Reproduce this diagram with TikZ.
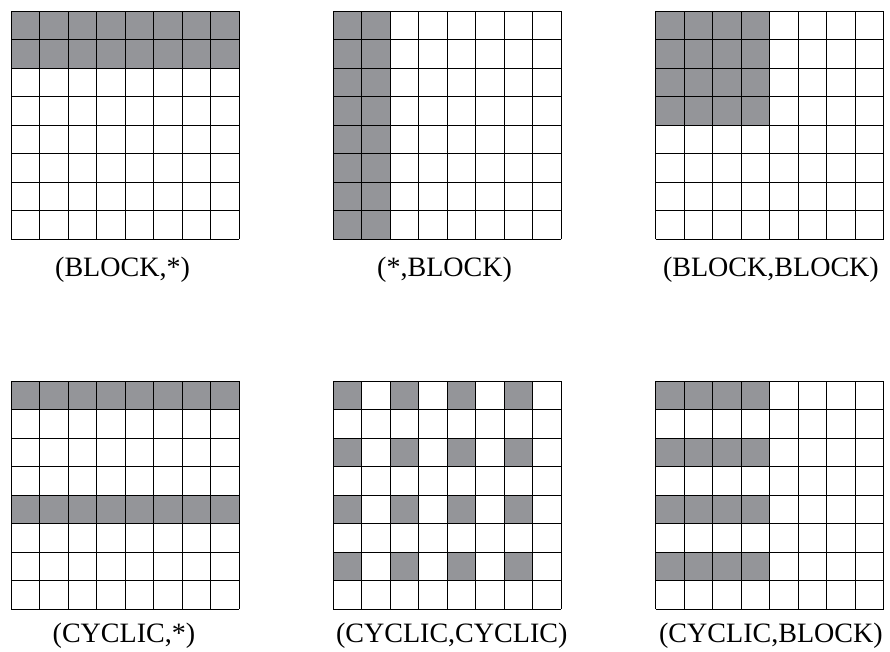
\documentclass[tikz,border=0pt]{standalone}
\usepackage{fontspec}
\setmainfont{Liberation Serif}
\usetikzlibrary{positioning}
\definecolor{cellgray}{RGB}{148,149,153}
\tikzset{
  owned/.style={fill=cellgray},
  gridline/.style={line width=0.9pt, black},
  distlabel/.style={font=\fontsize{28}{30}\selectfont, anchor=base, inner sep=0pt}
}

\begin{document}
\begin{tikzpicture}[x=1cm, y=1cm]
\useasboundingbox (0,0) rectangle (31.228,22.877);

% Top row: (BLOCK,*)
\begin{scope}[shift={(0.39,14.49)}]
\fill[owned] (0,6) rectangle (8,8);
\draw[gridline] (0,0) grid (8,8);
\end{scope}

% Top row: (*,BLOCK)
\begin{scope}[shift={(11.69,14.49)}]
\fill[owned] (0,0) rectangle (2,8);
\draw[gridline] (0,0) grid (8,8);
\end{scope}

% Top row: (BLOCK,BLOCK)
\begin{scope}[shift={(23.0,14.49)}]
\fill[owned] (0,4) rectangle (4,8);
\draw[gridline] (0,0) grid (8,8);
\end{scope}

% Bottom row: (CYCLIC,*)
\begin{scope}[shift={(0.39,1.51)}]
\fill[owned] (0,7) rectangle (8,8);
\fill[owned] (0,3) rectangle (8,4);
\draw[gridline] (0,0) grid (8,8);
\end{scope}

% Bottom row: (CYCLIC,CYCLIC)
\begin{scope}[shift={(11.69,1.51)}]
\foreach \r in {0,2,4,6}
  \foreach \c in {0,2,4,6}
    \fill[owned] (\c,7-\r) rectangle ++(1,1);
\draw[gridline] (0,0) grid (8,8);
\end{scope}

% Bottom row: (CYCLIC,BLOCK)
\begin{scope}[shift={(23.0,1.51)}]
\foreach \r in {0,2,4,6}
  \fill[owned] (0,7-\r) rectangle ++(4,1);
\draw[gridline] (0,0) grid (8,8);
\end{scope}

% Labels
\node[distlabel] (blockstar) at (4.30,13.16) {(BLOCK,*)};
\node[distlabel] (starblock) at (15.60,13.16) {(*,BLOCK)};
\node[distlabel] (blockblock) at (27.05,13.16) {(BLOCK,BLOCK)};
\node[distlabel] (cyclicstar) at (4.35,0.32) {(CYCLIC,*)};
\node[distlabel] (cycliccyclic) at (15.85,0.32) {(CYCLIC,CYCLIC)};
\node[distlabel] (cyclicblock) at (27.05,0.32) {(CYCLIC,BLOCK)};

\end{tikzpicture}
\end{document}
